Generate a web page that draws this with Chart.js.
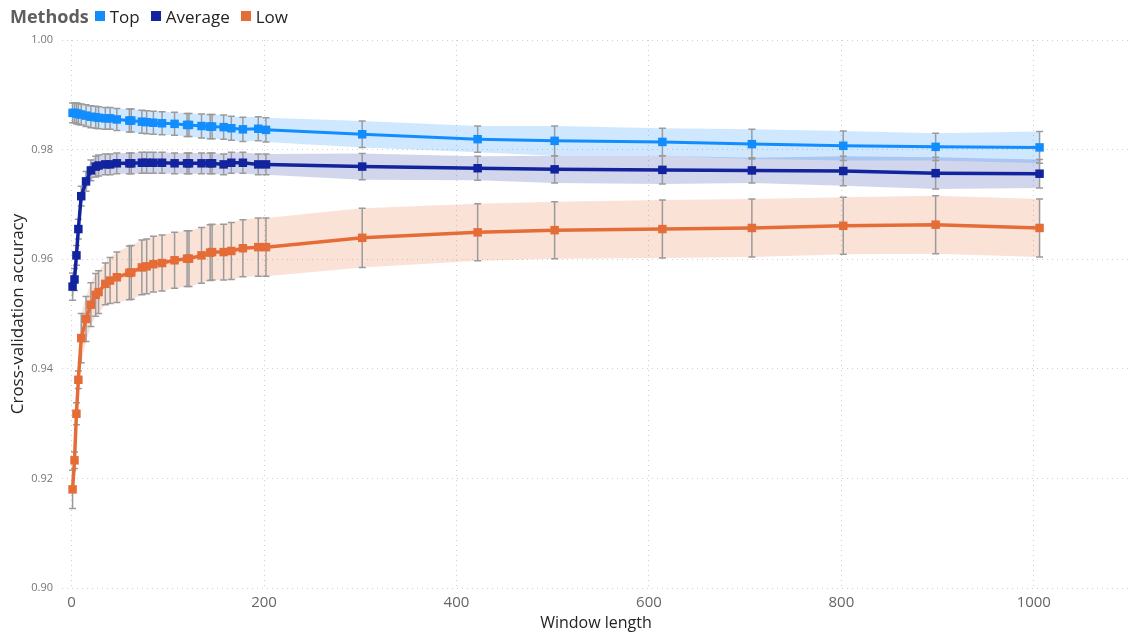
<!DOCTYPE html>
<html>
<head>
<meta charset="utf-8">
<script src="https://cdn.jsdelivr.net/npm/chart.js@4.4.1/dist/chart.umd.min.js"></script>
<style>
  body { margin: 0; background: #fff; }
  #wrap { position: relative; width: 1136px; height: 637px; }
  #legend {
    position: absolute; left: 10px; top: 4px;
    font-family: "Segoe UI", "Open Sans", sans-serif; font-size: 17px; color: #252423;
    display: flex; align-items: center; white-space: nowrap;
  }
  #legend .ttl { font-weight: bold; font-size: 18px; color: #605E5C; margin-right: 6px; }
  #legend .sw { display: inline-block; width: 10px; height: 10px; margin-right: 5px; }
  #legend .it { margin-right: 11px; }
</style>
</head>
<body>
<div id="wrap">
  <canvas id="chart" width="1136" height="637"></canvas>
  <div id="legend">
    <span class="ttl">Methods</span>
    <span class="sw" style="background:#118DFF"></span><span class="it">Top</span>
    <span class="sw" style="background:#12239E"></span><span class="it">Average</span>
    <span class="sw" style="background:#E66C37"></span><span class="it">Low</span>
  </div>
</div>
<script>
// --- данные ---
const windowLength = [1, 3, 5, 7, 10, 15, 20, 25, 28, 35, 40, 47, 60, 62, 73, 78, 85, 94, 107, 120, 122,
  135, 144, 146, 158, 166, 178, 194, 202, 302, 422, 502, 614, 707, 802, 898, 1006];

const topMean = [0.9867, 0.9867, 0.9866, 0.9865, 0.9864, 0.9862, 0.9860, 0.9859, 0.9858, 0.9857, 0.9857,
  0.9855, 0.9853, 0.9853, 0.9851, 0.9850, 0.9849, 0.9848, 0.9847, 0.9845, 0.9845, 0.9843, 0.9842, 0.9842,
  0.9841, 0.9839, 0.9837, 0.9838, 0.9836, 0.9828, 0.9819, 0.9816, 0.9814, 0.9810, 0.9807, 0.9805, 0.9804];
const topStd = [0.0018, 0.0018, 0.0019, 0.0019, 0.0019, 0.0020, 0.0020, 0.0020, 0.0020, 0.0020, 0.0020,
  0.0020, 0.0021, 0.0021, 0.0021, 0.0021, 0.0021, 0.0021, 0.0021, 0.0021, 0.0021, 0.0022, 0.0022, 0.0022,
  0.0022, 0.0022, 0.0022, 0.0022, 0.0022, 0.0024, 0.0024, 0.0027, 0.0025, 0.0027, 0.0027, 0.0025, 0.0029];

const avgMean = [0.9550, 0.9563, 0.9607, 0.9655, 0.9715, 0.9742, 0.9762, 0.9769, 0.9771, 0.9773, 0.9773,
  0.9775, 0.9775, 0.9775, 0.9776, 0.9776, 0.9776, 0.9776, 0.9775, 0.9775, 0.9775, 0.9775, 0.9775, 0.9775,
  0.9773, 0.9776, 0.9776, 0.9773, 0.9773, 0.9769, 0.9766, 0.9764, 0.9763, 0.9762, 0.9761, 0.9757, 0.9756];
const avgStd = [0.0025, 0.0020, 0.0018, 0.0018, 0.0018, 0.0018, 0.0019, 0.0019, 0.0019, 0.0019, 0.0019,
  0.0019, 0.0019, 0.0019, 0.0019, 0.0019, 0.0019, 0.0019, 0.0019, 0.0019, 0.0019, 0.0019, 0.0019, 0.0019,
  0.0019, 0.0019, 0.0019, 0.0019, 0.0019, 0.0024, 0.0022, 0.0025, 0.0026, 0.0023, 0.0027, 0.0029, 0.0026];

const lowMean = [0.9180, 0.9233, 0.9318, 0.9380, 0.9456, 0.9491, 0.9517, 0.9535, 0.9540, 0.9555, 0.9561,
  0.9567, 0.9575, 0.9576, 0.9585, 0.9587, 0.9591, 0.9593, 0.9598, 0.9601, 0.9601, 0.9607, 0.9612, 0.9613,
  0.9613, 0.9615, 0.9620, 0.9622, 0.9622, 0.9639, 0.9649, 0.9653, 0.9655, 0.9657, 0.9661, 0.9663, 0.9657];
const lowStd = [0.0035, 0.0015, 0.0020, 0.0016, 0.0045, 0.0041, 0.0040, 0.0039, 0.0039, 0.0038, 0.0042,
  0.0046, 0.0049, 0.0049, 0.0050, 0.0050, 0.0051, 0.0051, 0.0051, 0.0051, 0.0051, 0.0051, 0.0051, 0.0051,
  0.0051, 0.0052, 0.0052, 0.0053, 0.0053, 0.0054, 0.0052, 0.0052, 0.0053, 0.0053, 0.0052, 0.0053, 0.0053];

const xTicks = [0, 200, 400, 600, 800, 1000];
const yTicks = [0.90, 0.92, 0.94, 0.96, 0.98, 1.00];

// точки для линии и для границ полосы
function points(mean, std, sign) {
  return windowLength.map((w, i) => ({ x: w, y: mean[i] + sign * std[i] }));
}

function lineSet(label, color, mean, width) {
  return {
    label: label, data: points(mean, mean.map(() => 0), 0),
    borderColor: color, backgroundColor: color, borderWidth: width,
    pointStyle: "rect", pointRadius: 6, pointBorderWidth: 0, tension: 0, fill: false
  };
}

function bandSet(mean, std, sign, fillColor) {
  return {
    data: points(mean, std, sign), borderWidth: 0, pointRadius: 0, tension: 0,
    backgroundColor: fillColor, fill: sign > 0 ? "+1" : false
  };
}

// усы ошибок — рисуем до линий, поверх полос
const errorBars = {
  id: "errorBars",
  beforeDatasetDraw(chart, args) {
    if (args.index !== 2) return;
    const { ctx, scales: { x, y } } = chart;
    ctx.save();
    ctx.strokeStyle = "#9b9b9b";
    ctx.lineWidth = 1.5;
    [[topMean, topStd], [avgMean, avgStd], [lowMean, lowStd]].forEach(([m, s]) => {
      windowLength.forEach((w, i) => {
        const px = x.getPixelForValue(w);
        const y1 = y.getPixelForValue(m[i] + s[i]);
        const y2 = y.getPixelForValue(m[i] - s[i]);
        ctx.beginPath();
        ctx.moveTo(px, y1); ctx.lineTo(px, y2);
        ctx.moveTo(px - 3.5, y1); ctx.lineTo(px + 3.5, y1);
        ctx.moveTo(px - 3.5, y2); ctx.lineTo(px + 3.5, y2);
        ctx.stroke();
      });
    });
    ctx.restore();
  }
};

const font = '"Segoe UI", "Open Sans", sans-serif';

new Chart(document.getElementById("chart"), {
  type: "line",
  data: {
    datasets: [
      lineSet("Top", "#118DFF", topMean, 3),
      lineSet("Average", "#12239E", avgMean, 3.5),
      lineSet("Low", "#E66C37", lowMean, 3.5),
      bandSet(topMean, topStd, 1, "rgba(17,141,255,0.2)"),
      bandSet(topMean, topStd, -1, "rgba(17,141,255,0.2)"),
      bandSet(avgMean, avgStd, 1, "rgba(18,35,158,0.19)"),
      bandSet(avgMean, avgStd, -1, "rgba(18,35,158,0.19)"),
      bandSet(lowMean, lowStd, 1, "rgba(230,108,55,0.2)"),
      bandSet(lowMean, lowStd, -1, "rgba(230,108,55,0.2)")
    ]
  },
  options: {
    responsive: false,
    animation: false,
    layout: { padding: { top: 40, right: 3, left: 0, bottom: 0 } },
    plugins: { legend: { display: false }, tooltip: { enabled: false } },
    scales: {
      x: {
        type: "linear", min: -10, max: 1100,
        afterBuildTicks: axis => { axis.ticks = xTicks.map(v => ({ value: v })); },
        afterFit: axis => { axis.height = 49; },
        grid: { color: "#cfcfcf", drawTicks: false },
        border: { display: false, dash: [1, 4] },
        ticks: { font: { family: font, size: 15 }, color: "#666", padding: 6, callback: v => String(v) },
        title: { display: true, text: "Window length", font: { family: font, size: 16 }, color: "#252423", padding: { top: 2 } }
      },
      y: {
        min: 0.90, max: 1.00,
        afterBuildTicks: axis => { axis.ticks = yTicks.map(v => ({ value: v })); },
        afterFit: axis => { axis.width = 62; },
        grid: { color: "#cfcfcf", drawTicks: false },
        border: { display: false, dash: [1, 4] },
        ticks: { font: { family: font, size: 11 }, color: "#777", padding: 9, callback: v => v.toFixed(2) },
        title: { display: true, text: "Cross-validation accuracy", font: { family: font, size: 17 }, color: "#252423", padding: { top: 8 } }
      }
    }
  },
  plugins: [errorBars]
});
</script>
</body>
</html>
